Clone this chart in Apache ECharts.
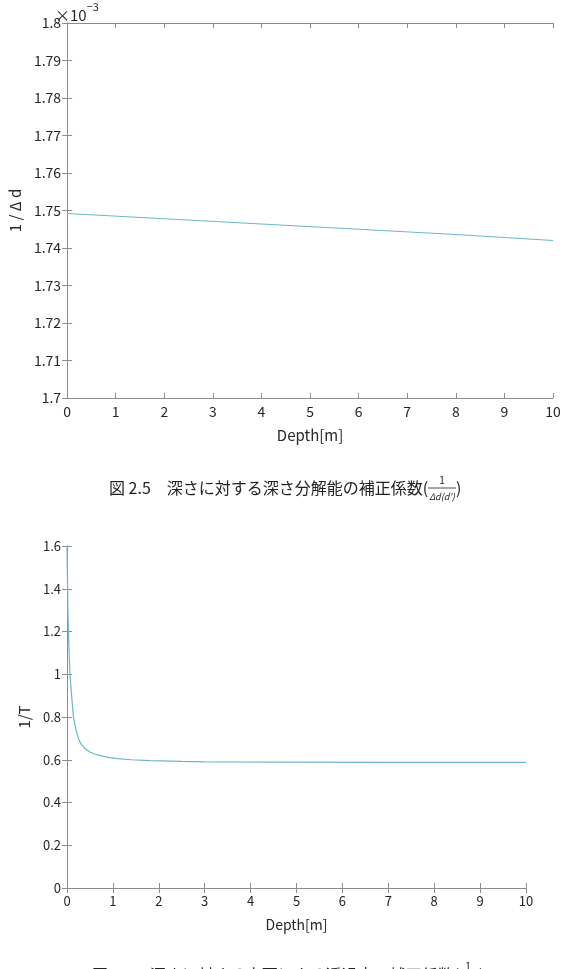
<!DOCTYPE html>
<html>
<head>
<meta charset="utf-8">
<script src="https://cdn.jsdelivr.net/npm/echarts@6/dist/echarts.min.js"></script>
<style>
  html, body { margin: 0; padding: 0; background: #fff; }
  #chart { width: 567px; height: 969px; }
</style>
</head>
<body>
<div id="chart"></div>
<script>
// 図2.5 深さ分解能の補正係数 (×10^-3)
var depth1 = [0, 1, 2, 3, 4, 5, 6, 7, 8, 9, 10];
var invDd = [1.7492, 1.7485, 1.7478, 1.7471, 1.7464, 1.7457, 1.7450, 1.7443, 1.7436, 1.7428, 1.7420];

// 図2.6 透過率の補正係数
var depth2 = [0, 0.02, 0.04, 0.065, 0.1, 0.14, 0.2, 0.25, 0.3, 0.4, 0.5, 0.6, 0.75, 0.9, 1.1, 1.4, 1.8, 2.5, 3, 5, 7, 10];
var invT = [1.6, 1.3, 1.14, 1.0, 0.9, 0.8, 0.735, 0.7, 0.675, 0.65, 0.636, 0.627, 0.618, 0.611, 0.605, 0.6, 0.596, 0.592, 0.59, 0.589, 0.588, 0.588];

var xTicks = [0, 1, 2, 3, 4, 5, 6, 7, 8, 9, 10];

var lineColor = '#6db5cb';
var axisColor = '#8c8c8c';
var textColor = '#262626';
var fontFam = '"Noto Sans CJK JP", sans-serif';

function pairs(xs, ys) {
  var out = [];
  for (var i = 0; i < xs.length; i++) out.push([xs[i], ys[i]]);
  return out;
}

function xAxisMain(gi, fs) {
  return {
    type: 'value', gridIndex: gi, min: xTicks[0], max: xTicks[xTicks.length - 1], interval: 1,
    name: 'Depth[m]', nameLocation: 'middle', nameGap: 30,
    nameTextStyle: { color: textColor, fontSize: fs + 1, fontFamily: fontFam },
    axisLine: { show: true, lineStyle: { color: axisColor } },
    axisTick: { inside: true, length: 5, lineStyle: { color: axisColor } },
    axisLabel: { color: textColor, fontSize: fs, fontFamily: fontFam, margin: 7 },
    splitLine: { show: false }
  };
}
function xAxisTop(gi) {
  return {
    type: 'value', gridIndex: gi, position: 'top', min: 0, max: 10, interval: 1,
    axisLine: { show: true, lineStyle: { color: axisColor } },
    axisTick: { inside: true, length: 5, lineStyle: { color: axisColor } },
    axisLabel: { show: false }, splitLine: { show: false }
  };
}
function yAxisRight(gi, min, max, interval) {
  return {
    type: 'value', gridIndex: gi, position: 'right', min: min, max: max, interval: interval,
    axisLine: { show: true, lineStyle: { color: axisColor } },
    axisTick: { inside: true, length: 5, lineStyle: { color: axisColor } },
    axisLabel: { show: false }, splitLine: { show: false }
  };
}

var chart = echarts.init(document.getElementById('chart'));
var option = {
  backgroundColor: '#fff',
  animation: false,
  grid: [
    { left: 53, top: 23, width: 500, height: 375 },
    { left: 67, top: 546, width: 459, height: 342 }
  ],
  xAxis: [xAxisMain(0, 14), xAxisTop(0), xAxisMain(1, 13), xAxisTop(1)],
  yAxis: [
    {
      type: 'value', gridIndex: 0, min: 1.7, max: 1.8, interval: 0.01,
      name: '1 / Δ d', nameLocation: 'middle', nameGap: 30,
      nameTextStyle: { color: textColor, fontSize: 15, fontFamily: fontFam },
      axisLine: { show: true, lineStyle: { color: axisColor } },
      axisTick: { inside: true, length: 5, lineStyle: { color: axisColor } },
      axisLabel: { color: textColor, fontSize: 14, fontFamily: fontFam, margin: 6 },
      splitLine: { show: false }
    },
    yAxisRight(0, 1.7, 1.8, 0.01),
    {
      type: 'value', gridIndex: 1, min: 0, max: 1.6, interval: 0.2,
      name: '1/T', nameLocation: 'middle', nameGap: 27,
      nameTextStyle: { color: textColor, fontSize: 15, fontFamily: fontFam },
      axisLine: { show: true, lineStyle: { color: axisColor } },
      axisTick: { inside: true, length: 5, lineStyle: { color: axisColor } },
      axisLabel: { color: textColor, fontSize: 13, fontFamily: fontFam, margin: 6 },
      splitLine: { show: false }
    },
    yAxisRight(1, 0, 1.6, 0.2)
  ],
  series: [
    {
      type: 'line', xAxisIndex: 0, yAxisIndex: 0, showSymbol: false,
      lineStyle: { color: lineColor, width: 1 },
      data: pairs(depth1, invDd)
    },
    {
      type: 'line', xAxisIndex: 2, yAxisIndex: 2, showSymbol: false,
      lineStyle: { color: lineColor, width: 1.2 },
      data: pairs(depth2, invT)
    }
  ],
  graphic: [
    {
      type: 'text', left: 55, top: 1,
      style: {
        text: '{a|×10}{b|−3}',
        rich: {
          a: { fontSize: 15, fontFamily: fontFam, fill: textColor, padding: [7, 0, 0, 0] },
          b: { fontSize: 11, fontFamily: fontFam, fill: textColor, verticalAlign: 'top' }
        }
      }
    },
    // caption 2.5
    {
      type: 'text', x: 109, y: 488,
      style: { text: '図 2.5　深さに対する深さ分解能の補正係数(', fontSize: 16, fontFamily: fontFam, fill: '#222', verticalAlign: 'middle', align: 'left' }
    },
    { type: 'text', x: 442, y: 480, style: { text: '1', fontSize: 10, fontFamily: fontFam, fill: '#222', align: 'center', verticalAlign: 'middle' } },
    { type: 'line', shape: { x1: 428, y1: 488, x2: 456, y2: 488 }, style: { stroke: '#222', lineWidth: 0.8 } },
    { type: 'text', x: 442, y: 497, style: { text: 'Δd(d′)', fontSize: 9, fontStyle: 'italic', fontFamily: fontFam, fill: '#222', align: 'center', verticalAlign: 'middle' } },
    { type: 'text', x: 456, y: 488, style: { text: ')', fontSize: 16, fontFamily: fontFam, fill: '#222', verticalAlign: 'middle' } },
    // caption 2.6 (cut off at the bottom)
    {
      type: 'text', x: 92, y: 975,
      style: { text: '図 2.6　深さに対する水面による透過率の補正係数(', fontSize: 16, fontFamily: fontFam, fill: '#222', verticalAlign: 'middle', align: 'left' }
    },
    { type: 'text', x: 468, y: 966, style: { text: '1', fontSize: 10, fontFamily: fontFam, fill: '#222', align: 'center', verticalAlign: 'middle' } },
    { type: 'line', shape: { x1: 457, y1: 975, x2: 479, y2: 975 }, style: { stroke: '#222', lineWidth: 0.8 } },
    { type: 'text', x: 479, y: 975, style: { text: ')', fontSize: 16, fontFamily: fontFam, fill: '#222', verticalAlign: 'middle' } }
  ]
};
chart.setOption(option);
</script>
</body>
</html>
